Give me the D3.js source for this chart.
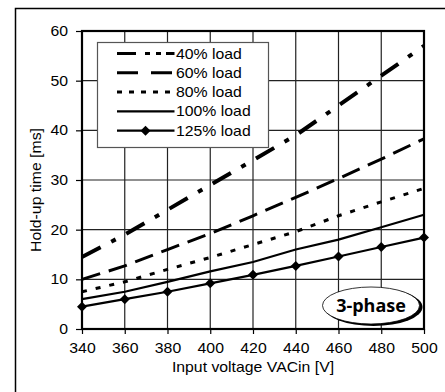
<!DOCTYPE html>
<html>
<head>
<meta charset="utf-8">
<script src="https://cdn.jsdelivr.net/npm/d3@7"></script>
<style>
  body { margin: 0; background: #fff; }
  text { font-family: Arial, "Liberation Sans", sans-serif; }
</style>
</head>
<body>
<div id="cont"></div>
<script>

// data
var voltages = [340, 360, 380, 400, 420, 440, 460, 480, 500];
var load40  = [14.5, 19, 24, 29, 34, 39, 45, 51, 57];
var load60  = [10, 12.7, 16, 19.2, 22.8, 26.5, 30.3, 34.2, 38.3];
var load80  = [7.5, 9.5, 12, 14.4, 17, 19.6, 22.8, 25.6, 28.3];
var load100 = [6, 7.5, 9.5, 11.6, 13.5, 16, 18, 20.5, 23];
var load125 = [4.5, 6, 7.5, 9.2, 10.9, 12.7, 14.6, 16.5, 18.4];
var seriesNames = ["40% load", "60% load", "80% load", "100% load", "125% load"];
var yTicks = [0, 10, 20, 30, 40, 50, 60];

// line styles per series (chart dash, legend dash)
var styles = [
  {dash: "21,12,5,12", legDash: "19,9,5,6,5,5", width: 4, marker: false},
  {dash: "19,9", legDash: "21,13", width: 3, marker: false},
  {dash: "5,9", legDash: "5,7", width: 3, marker: false},
  {dash: null, legDash: null, width: 2.2, marker: false},
  {dash: null, legDash: null, width: 2.2, marker: true}
];

var series = [load40, load60, load80, load100, load125].map(function(vals, i) {
  return {
    name: seriesNames[i],
    style: styles[i],
    values: vals.map(function(v, j) { return {v: voltages[j], t: v}; })
  };
});

var W = 445, H = 392;
var margin = {top: 31, right: 21, bottom: 63, left: 82},
    width = W - margin.left - margin.right,
    height = H - margin.top - margin.bottom;

// the source text is a bit wider than Arial
var FS = "14px", SX = 1.13;

var x = d3.scaleLinear().domain([340, 500]).range([0, width]);
var y = d3.scaleLinear().domain([0, 60]).range([height, 0]);

var svgRoot = d3.select("#cont").append("svg")
    .attr("width", W)
    .attr("height", H);

function addText(parent, tx, ty, str, anchor, rot) {
  return parent.append("text")
      .attr("transform", "translate(" + tx + "," + ty + ")" + (rot ? " rotate(" + rot + ")" : "") + " scale(" + SX + ",1)")
      .attr("text-anchor", anchor || "start")
      .style("font-size", FS)
      .text(str);
}

// outer frame
svgRoot.append("rect")
    .attr("x", 15.5).attr("y", 8.5)
    .attr("width", 440).attr("height", 400)
    .style("fill", "none")
    .style("stroke", "#000")
    .style("stroke-width", 1.5);

var svg = svgRoot.append("g")
    .attr("transform", "translate(" + margin.left + "," + margin.top + ")");

// grid
svg.append("g").selectAll("line")
    .data(voltages)
  .enter().append("line")
    .attr("x1", function(d) { return x(d); })
    .attr("x2", function(d) { return x(d); })
    .attr("y1", 0).attr("y2", height)
    .style("stroke", "#222").style("stroke-width", 1.2);

svg.append("g").selectAll("line")
    .data(yTicks)
  .enter().append("line")
    .attr("x1", 0).attr("x2", width)
    .attr("y1", function(d) { return y(d); })
    .attr("y2", function(d) { return y(d); })
    .style("stroke", "#222").style("stroke-width", 1.2);

// axes
var xAxis = svg.append("g")
    .attr("transform", "translate(0," + height + ")")
    .call(d3.axisBottom(x).tickValues(voltages).tickSize(5).tickPadding(9));

var yAxis = svg.append("g")
    .call(d3.axisLeft(y).tickValues(yTicks).tickSize(6).tickPadding(6.4));

[xAxis, yAxis].forEach(function(a) {
  a.select(".domain").remove();
  a.selectAll("line").style("stroke", "#000").style("stroke-width", 1.2);
  a.selectAll("text")
      .attr("transform", "scale(" + SX + ",1)")
      .style("font-size", FS)
      .style("font-family", "Arial, 'Liberation Sans', sans-serif")
      .style("fill", "#000");
});

// plot border
svg.append("rect")
    .attr("width", width).attr("height", height)
    .style("fill", "none")
    .style("stroke", "#000")
    .style("stroke-width", 2.2);

// axis titles
addText(svg, 253 - margin.left, height + 43, "Input voltage VACin [V]", "middle");
addText(svg, 41 - margin.left, 190 - margin.top, "Hold-up time [ms]", "middle", -90);

// lines
var line = d3.line()
    .x(function(d) { return x(d.v); })
    .y(function(d) { return y(d.t); });

var diamond = d3.symbol().type(d3.symbolSquare).size(50);

series.forEach(function(s) {
  svg.append("path")
      .datum(s.values)
      .attr("d", line)
      .style("fill", "none")
      .style("stroke", "#000")
      .style("stroke-width", s.style.width)
      .style("stroke-dasharray", s.style.dash);
  if (s.style.marker) {
    svg.append("g").selectAll("path")
        .data(s.values)
      .enter().append("path")
        .attr("d", diamond)
        .attr("transform", function(d) { return "translate(" + x(d.v) + "," + y(d.t) + ") rotate(45)"; })
        .style("fill", "#000");
  }
});

// legend
var legend = svgRoot.append("g").attr("transform", "translate(97.5,42.5)");
legend.append("rect")
    .attr("width", 171).attr("height", 105)
    .style("fill", "#fff")
    .style("stroke", "#555")
    .style("stroke-width", 1.2);

series.forEach(function(s, i) {
  var ly = 11 + i * 19.3;
  legend.append("line")
      .attr("x1", 19.5).attr("x2", 77)
      .attr("y1", ly).attr("y2", ly)
      .style("stroke", "#000")
      .style("stroke-width", Math.min(s.style.width, 3))
      .style("stroke-dasharray", s.style.legDash);
  if (s.style.marker) {
    legend.append("path")
        .attr("d", diamond)
        .attr("transform", "translate(48," + ly + ") rotate(45)")
        .style("fill", "#000");
  }
  addText(legend, 78.5, ly + 5, s.name, "start");
});

// 3-phase badge
var badge = svgRoot.append("g").attr("transform", "translate(371,305.5)");
badge.append("ellipse")
    .attr("cx", 2.5).attr("cy", 1.5)
    .attr("rx", 49).attr("ry", 19)
    .style("fill", "#000");
badge.append("ellipse")
    .attr("rx", 48.5).attr("ry", 18.5)
    .style("fill", "#fff")
    .style("stroke", "#000")
    .style("stroke-width", 0.8);
badge.append("text")
    .attr("text-anchor", "middle")
    .attr("y", 6.5)
    .style("font-family", "'Open Sans', 'DejaVu Sans', sans-serif")
    .style("font-weight", "bold")
    .style("font-size", "18px")
    .text("3-phase");

</script>
</body>
</html>
